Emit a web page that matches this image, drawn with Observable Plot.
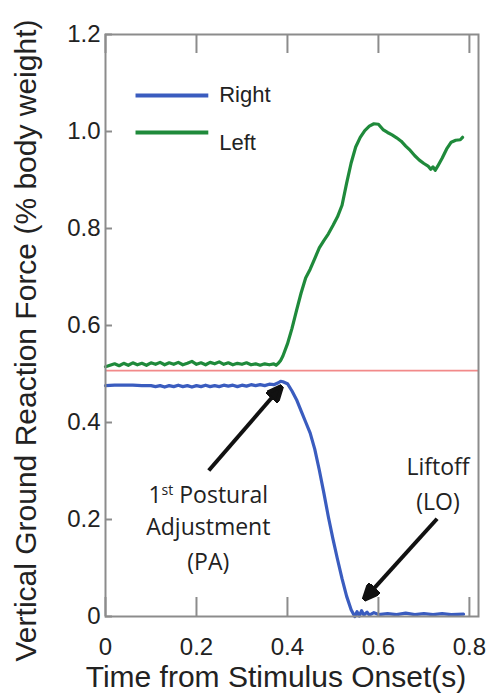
<!DOCTYPE html>
<html><head><meta charset="utf-8">
<script src="https://cdn.jsdelivr.net/npm/d3@7"></script>
<script src="https://cdn.jsdelivr.net/npm/@observablehq/plot@0.6"></script>
<style>html,body{margin:0;padding:0;background:#fff;} #chart svg{display:block}</style>
</head><body><div id="chart"></div>
<script>
// ---------- data ----------
const seriesNames = ["Right", "Left"];
const rightT = [0, 0.02, 0.04, 0.06, 0.08,
  0.10, 0.11, 0.12, 0.13, 0.14, 0.15, 0.16, 0.17, 0.18, 0.19, 0.20,
  0.21, 0.22, 0.23, 0.24, 0.25, 0.26, 0.27, 0.28, 0.29, 0.30,
  0.31, 0.32, 0.33, 0.34, 0.35, 0.36, 0.37, 0.38,
  0.385, 0.39,
  0.40, 0.41, 0.42, 0.43, 0.44, 0.45, 0.46, 0.47, 0.48, 0.49, 0.50, 0.51, 0.52, 0.53, 0.54,
  0.548, 0.553, 0.558, 0.563, 0.568, 0.575, 0.58, 0.59, 0.60,
  0.62, 0.64, 0.66, 0.68, 0.70, 0.72, 0.74, 0.76, 0.787];
const rightV = [0.476, 0.477, 0.477, 0.477, 0.476,
  0.476, 0.474, 0.476, 0.473, 0.476, 0.474, 0.477, 0.474, 0.476, 0.473, 0.476,
  0.474, 0.477, 0.474, 0.476, 0.474, 0.477, 0.475, 0.477, 0.474, 0.477,
  0.475, 0.478, 0.476, 0.478, 0.476, 0.479, 0.478, 0.482,
  0.485, 0.484,
  0.480, 0.465, 0.447, 0.424, 0.401, 0.378, 0.345, 0.302, 0.255, 0.205, 0.160, 0.118, 0.078, 0.042, 0.014,
  0.000, 0.010, 0.001, 0.012, 0.003, 0.009, 0.003, 0.008, 0.004,
  0.006, 0.004, 0.007, 0.004, 0.006, 0.004, 0.006, 0.004, 0.005];
const leftT = [0.00, 0.01, 0.02, 0.03, 0.04, 0.05, 0.06, 0.07, 0.08, 0.09,
  0.10, 0.11, 0.12, 0.13, 0.14, 0.15, 0.16, 0.17, 0.18, 0.19,
  0.20, 0.21, 0.22, 0.23, 0.24, 0.25, 0.26, 0.27, 0.28, 0.29,
  0.30, 0.31, 0.32, 0.33, 0.34, 0.35, 0.36, 0.37,
  0.375, 0.38, 0.385, 0.39,
  0.40, 0.41, 0.42, 0.43, 0.44, 0.45, 0.46, 0.47, 0.48, 0.49,
  0.50, 0.51, 0.52, 0.53, 0.54, 0.55, 0.56, 0.57, 0.58, 0.59,
  0.60, 0.61, 0.62, 0.63, 0.64, 0.65, 0.66, 0.67, 0.68, 0.69,
  0.70, 0.71,
  0.715, 0.72, 0.725, 0.73, 0.74, 0.75, 0.76, 0.77, 0.78, 0.785];
const leftV = [0.515, 0.518, 0.521, 0.517, 0.522, 0.518, 0.523, 0.519, 0.522, 0.518,
  0.523, 0.520, 0.524, 0.519, 0.523, 0.520, 0.524, 0.519, 0.522, 0.526,
  0.520, 0.523, 0.519, 0.524, 0.521, 0.525, 0.520, 0.523, 0.519, 0.522,
  0.520, 0.523, 0.519, 0.521, 0.518, 0.521, 0.519, 0.521,
  0.518, 0.522, 0.528, 0.537,
  0.562, 0.594, 0.631, 0.667, 0.698, 0.716, 0.738, 0.760, 0.775, 0.789,
  0.806, 0.824, 0.848, 0.893, 0.935, 0.968, 0.988, 1.002, 1.011, 1.016,
  1.015, 1.004, 0.998, 0.993, 0.987, 0.980, 0.970, 0.961, 0.950, 0.941,
  0.934, 0.928,
  0.922, 0.927, 0.920, 0.928, 0.945, 0.964, 0.978, 0.982, 0.983, 0.988];
const referenceLevel = [0.507];
const xTickValues = [0, 0.2, 0.4, 0.6, 0.8];
const xTickLabels = ["0", "0.2", "0.4", "0.6", "0.8"];
const yTickValues = [0, 0.2, 0.4, 0.6, 0.8, 1.0, 1.2];
const yTickLabels = ["0", "0.2", "0.4", "0.6", "0.8", "1.0", "1.2"];
const xTitle = "Time from Stimulus Onset(s)";
const yTitle = "Vertical Ground Reaction Force (% body weight)";
const paLines = ["1st Postural", "Adjustment", "(PA)"];
const loLines = ["Liftoff", "(LO)"];
// arrows: [tail t, tail value, head t, head value]
const arrowPA = [0.227, 0.301, 0.383, 0.470];
const arrowLO = [0.729, 0.2015, 0.573, 0.040];

// ---------- layout / style ----------
const W = 493, H = 699, mL = 105, mR = 15, mT = 34, mB = 83;
const plotW = W - mL - mR, plotH = H - mT - mB;
const axisGray = "#8c8c8c";
const seriesColors = ["#3a5cbf", "#1f8a3b"];
const legendLayout = {x1: 0.066, x2: 0.226, textX: 0.25, lineY: [1.074, 0.998], textY: [1.075, 0.977]};
const paLayout = {x: 0.226, y: [0.249, 0.184, 0.111]};
const loLayout = {x: 0.731, y: [0.307, 0.235]};
const annFont = "'Open Sans', 'Noto Sans', sans-serif";

const right = rightT.map((t, i) => ({t, v: rightV[i]}));
const left = leftT.map((t, i) => ({t, v: leftV[i]}));

function headMarker(color, context) {
  const ns = "http://www.w3.org/2000/svg";
  const doc = (context && context.document) || document;
  const m = doc.createElementNS(ns, "marker");
  m.setAttribute("viewBox", "-16 -8 17 16");
  m.setAttribute("markerWidth", "17");
  m.setAttribute("markerHeight", "16");
  m.setAttribute("markerUnits", "userSpaceOnUse");
  m.setAttribute("orient", "auto");
  m.setAttribute("refX", "-3");
  m.setAttribute("refY", "0");
  const p = doc.createElementNS(ns, "path");
  p.setAttribute("d", "M-16,-7.5L1,0L-16,7.5Z");
  p.setAttribute("fill", color);
  m.appendChild(p);
  return m;
}

const arrows = [arrowPA, arrowLO];

const chart = Plot.plot({
  width: W, height: H,
  marginLeft: mL, marginRight: mR, marginTop: mT, marginBottom: mB,
  x: {domain: [0, 0.82]},
  y: {domain: [0, 1.2]},
  style: {fontFamily: "'Liberation Sans', Arial, sans-serif", fontSize: "24px", color: "#222", background: "#fff", overflow: "visible"},
  marks: [
    Plot.ruleY(referenceLevel, {stroke: "#f28a8a", strokeWidth: 1.6}),
    Plot.line(right, {x: "t", y: "v", stroke: seriesColors[0], strokeWidth: 3.2, strokeLinejoin: "round"}),
    Plot.line(left, {x: "t", y: "v", stroke: seriesColors[1], strokeWidth: 3.2, strokeLinejoin: "round"}),
    Plot.frame({stroke: axisGray, strokeWidth: 2}),
    Plot.tickX(xTickValues, {x: d => d, stroke: axisGray, strokeWidth: 2, insetTop: plotH - 19}),
    Plot.tickX(xTickValues, {x: d => d, stroke: axisGray, strokeWidth: 2, insetBottom: plotH - 19}),
    Plot.tickY(yTickValues, {y: d => d, stroke: axisGray, strokeWidth: 2, insetRight: plotW - 7}),
    Plot.axisX(xTickValues, {tickSize: 0, tickPadding: 21, fontSize: 24, label: null,
      tickFormat: d => xTickLabels[xTickValues.indexOf(d)]}),
    Plot.axisY(yTickValues, {tickSize: 0, tickPadding: 5, fontSize: 24, label: null,
      tickFormat: d => yTickLabels[yTickValues.indexOf(d)]}),
    Plot.text([xTitle], {text: d => d, frameAnchor: "bottom", textAnchor: "middle", dx: -16, dy: 49, lineAnchor: "top", fontSize: 30, fill: "#222"}),
    Plot.text([yTitle], {text: d => d, frameAnchor: "left", textAnchor: "middle", rotate: -90, dx: -79, dy: 15, lineAnchor: "middle", fontSize: 30, fill: "#222"}),
    // legend
    ...seriesNames.map((name, i) => Plot.link([name], {
      x1: () => legendLayout.x1, x2: () => legendLayout.x2,
      y1: () => legendLayout.lineY[i], y2: () => legendLayout.lineY[i],
      stroke: seriesColors[i], strokeWidth: 4})),
    Plot.text(seriesNames, {text: d => d, x: () => legendLayout.textX, y: (d, i) => legendLayout.textY[i],
      textAnchor: "start", fontSize: 22, fill: "#222"}),
    // annotations
    Plot.link(arrows, {x1: d => d[0], y1: d => d[1], x2: d => d[2], y2: d => d[3],
      stroke: "#111", strokeWidth: 4, markerEnd: headMarker}),
    Plot.text(paLines, {text: d => d, x: () => paLayout.x, y: (d, i) => paLayout.y[i],
      fontFamily: annFont, fontSize: 23, fill: "#222"}),
    Plot.text(loLines, {text: d => d, x: () => loLayout.x, y: (d, i) => loLayout.y[i],
      fontFamily: annFont, fontSize: 23, fill: "#222"})
  ]
});

// superscript "st" in "1st Postural"
d3.select(chart).selectAll("text").filter(function () { return this.textContent === paLines[0]; })
  .each(function () {
    const el = d3.select(this);
    el.text(null);
    el.append("tspan").text("1");
    el.append("tspan").attr("dy", -8).attr("font-size", 14).text("st");
    el.append("tspan").attr("dy", 8).text(" Postural");
  });

document.getElementById("chart").appendChild(chart);
</script></body></html>
